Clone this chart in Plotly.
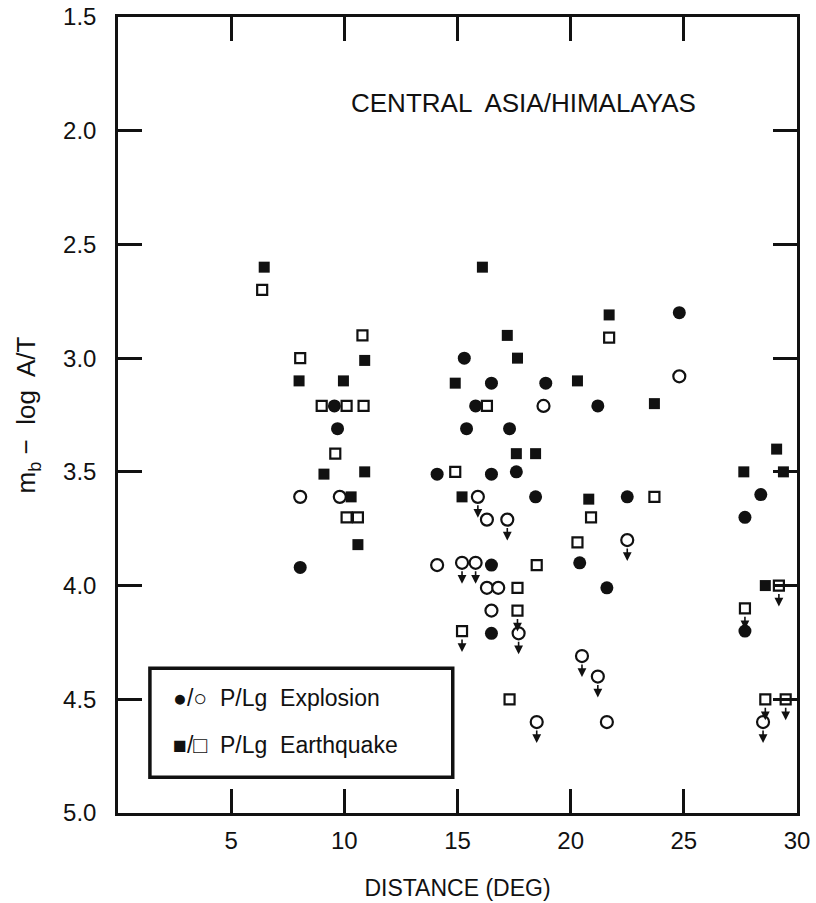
import plotly.graph_objects as go

# ---------------- data (distance in deg, mb - log A/T) ----------------
expl_filled_x = [9.56, 9.7, 8.05, 15.3, 16.5, 18.9, 15.8, 21.2, 15.4, 17.3, 14.1, 16.5,
                 17.6, 18.45, 22.5, 16.5, 20.4, 21.6, 16.5, 24.8, 28.4, 27.7, 27.7]
expl_filled_y = [3.21, 3.31, 3.92, 3.0, 3.11, 3.11, 3.21, 3.21, 3.31, 3.31, 3.51, 3.51,
                 3.5, 3.61, 3.61, 3.91, 3.9, 4.01, 4.21, 2.8, 3.6, 3.7, 4.2]

expl_open_x = [8.05, 9.8, 18.8, 16.3, 14.1, 16.3, 16.8, 16.5, 21.6, 24.8]
expl_open_y = [3.61, 3.61, 3.21, 3.71, 3.91, 4.01, 4.01, 4.11, 4.6, 3.08]

expl_limit_x = [15.9, 17.2, 22.5, 15.2, 15.8, 17.7, 20.5, 21.2, 18.5, 28.5]
expl_limit_y = [3.61, 3.71, 3.8, 3.9, 3.9, 4.21, 4.31, 4.40, 4.6, 4.6]

eq_filled_x = [6.46, 10.9, 8.0, 9.96, 9.1, 10.9, 10.3, 10.6, 16.1, 21.7, 17.2, 17.65,
               14.9, 20.3, 23.7, 17.6, 18.45, 15.2, 20.8, 29.1, 27.65, 29.4, 28.6]
eq_filled_y = [2.6, 3.01, 3.1, 3.1, 3.51, 3.5, 3.61, 3.82, 2.6, 2.81, 2.9, 3.0,
               3.11, 3.1, 3.2, 3.42, 3.42, 3.61, 3.62, 3.4, 3.5, 3.5, 4.0]

eq_open_x = [6.37, 10.8, 8.05, 9.0, 10.1, 10.85, 9.6, 10.1, 10.6, 21.7, 16.3, 14.9,
             23.7, 20.9, 20.3, 18.5, 17.65, 17.3]
eq_open_y = [2.7, 2.9, 3.0, 3.21, 3.21, 3.21, 3.42, 3.70, 3.70, 2.91, 3.21, 3.5,
             3.61, 3.70, 3.81, 3.91, 4.01, 4.5]

eq_limit_x = [17.65, 15.2, 29.2, 27.7, 28.6, 29.5]
eq_limit_y = [4.11, 4.2, 4.0, 4.1, 4.5, 4.5]

x_ticks = [5, 10, 15, 20, 25, 30]
y_ticks = [1.5, 2.0, 2.5, 3.0, 3.5, 4.0, 4.5, 5.0]
y_tick_text = ["1.5", "2.0", "2.5", "3.0", "3.5", "4.0", "4.5", "5.0"]

FONT = "Liberation Sans, Arial, sans-serif"
BLACK = "#111111"

fig = go.Figure()

# arrows for limit points, drawn first so markers sit on top
annotations = []
for xs, ys in ((expl_limit_x, expl_limit_y), (eq_limit_x, eq_limit_y)):
    for xv, yv in zip(xs, ys):
        annotations.append(dict(
            x=xv, y=yv, xref="x", yref="y", text="", showarrow=True,
            ax=0, ay=-14, yshift=-21, arrowhead=2, arrowsize=1.1,
            arrowwidth=1.6, arrowcolor=BLACK))

def add(xs, ys, symbol, size, filled):
    fig.add_trace(go.Scatter(
        x=xs, y=ys, mode="markers", showlegend=False, hoverinfo="skip",
        marker=dict(symbol=symbol, size=size,
                    color=BLACK if filled else "white",
                    line=dict(color=BLACK, width=0 if filled else 2.2))))

add(expl_filled_x, expl_filled_y, "circle", 13, True)
add(eq_filled_x, eq_filled_y, "square", 11, True)
add(expl_open_x + expl_limit_x, expl_open_y + expl_limit_y, "circle", 12, False)
add(eq_open_x + eq_limit_x, eq_open_y + eq_limit_y, "square", 10, False)

# title inside plot
annotations.append(dict(
    x=0.597, y=0.892, xref="paper", yref="paper", showarrow=False,
    text="CENTRAL  ASIA/HIMALAYAS", font=dict(family=FONT, size=26, color=BLACK),
    xanchor="center", yanchor="middle"))

# legend box text
annotations.append(dict(
    x=0.078, y=0.145, xref="paper", yref="paper", showarrow=False,
    text="●/○  P/Lg  Explosion", font=dict(family=FONT, size=23, color=BLACK),
    xanchor="left", yanchor="middle"))
annotations.append(dict(
    x=0.078, y=0.086, xref="paper", yref="paper", showarrow=False,
    text="■/□  P/Lg  Earthquake", font=dict(family=FONT, size=23, color=BLACK),
    xanchor="left", yanchor="middle"))

fig.update_layout(
    width=816, height=903,
    margin=dict(l=118, r=19, t=17, b=90),
    paper_bgcolor="white", plot_bgcolor="white",
    font=dict(family=FONT, size=24, color=BLACK),
    annotations=annotations,
    shapes=[dict(type="rect", xref="paper", yref="paper",
                 x0=0.047, x1=0.493, y0=0.045, y1=0.182,
                 line=dict(color=BLACK, width=3.5), fillcolor="white", layer="below")],
    xaxis=dict(
        range=[0, 30], tickvals=x_ticks, ticks="inside", ticklen=24, tickwidth=2.5,
        tickcolor=BLACK, showline=True, linecolor=BLACK, linewidth=2.5,
        mirror="ticks", showgrid=False, zeroline=False, ticklabelstandoff=4,
        automargin=False, tickfont=dict(size=24),
        title=dict(text="DISTANCE (DEG)", font=dict(size=23), standoff=28)),
    yaxis=dict(
        range=[5.0, 1.5], tickvals=y_ticks, ticktext=y_tick_text, ticks="inside",
        ticklen=24, tickwidth=2.5, tickcolor=BLACK, showline=True, linecolor=BLACK,
        linewidth=2.5, mirror="ticks", showgrid=False, zeroline=False,
        ticklabelstandoff=14, automargin=False, tickfont=dict(size=24),
        title=dict(text="m<sub>b</sub> −  log  A/T", font=dict(size=26), standoff=20)),
)

fig.write_html("out.html", config={"displayModeBar": False},
               post_script="document.body.style.margin='0';document.body.style.overflow='hidden';")
